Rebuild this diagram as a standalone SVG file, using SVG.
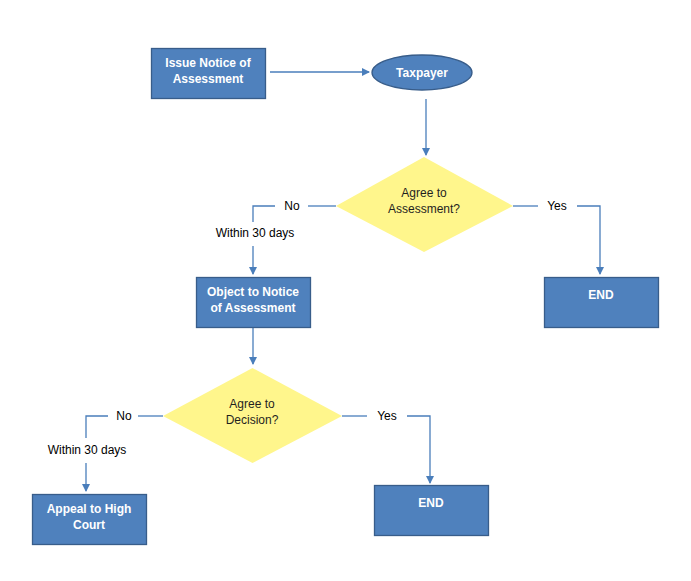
<svg xmlns="http://www.w3.org/2000/svg" width="691" height="581" viewBox="0 0 691 581">
<style>
.box{fill:#4F81BD;stroke:#385D8A;stroke-width:1.3}
.dia{fill:#FFF68C;stroke:none}
.nt{font-family:"Liberation Sans",Arial,sans-serif;font-size:12px;font-weight:bold;fill:#FFFFFF;text-anchor:middle}
.dt{font-family:"Liberation Sans",Arial,sans-serif;font-size:12px;fill:#1F1F1F;text-anchor:middle}
.lbl{font-family:"Liberation Sans",Arial,sans-serif;font-size:12px;fill:#000000;text-anchor:middle}
.c{fill:none;stroke:#4A7EBB;stroke-width:1.3}
</style>
<defs>
<marker id="ah" markerWidth="8" markerHeight="8" refX="7" refY="4" orient="auto" markerUnits="userSpaceOnUse">
<path d="M0,0 L8,4 L0,8 Z" fill="#4A7EBB"/>
</marker>
</defs>
<rect width="691" height="581" fill="#FFFFFF"/>
<g id="connectors">
<line class="c" x1="270" y1="72" x2="369" y2="72" marker-end="url(#ah)"/>
<line class="c" x1="426" y1="99" x2="426" y2="155" marker-end="url(#ah)"/>
<polyline class="c" points="336,206 308,206"/>
<polyline class="c" points="275,206 253,206 253,222"/>
<line class="c" x1="253" y1="246" x2="253" y2="274" marker-end="url(#ah)"/>
<polyline class="c" points="513,206 538,206"/>
<polyline class="c" points="577,206 600,206 600,274" marker-end="url(#ah)"/>
<line class="c" x1="253" y1="328" x2="253" y2="364" marker-end="url(#ah)"/>
<polyline class="c" points="163,416 138,416"/>
<polyline class="c" points="108,416 86,416 86,438"/>
<line class="c" x1="86" y1="463" x2="86" y2="491" marker-end="url(#ah)"/>
<polyline class="c" points="342,416 367,416"/>
<polyline class="c" points="407,416 430,416 430,483" marker-end="url(#ah)"/>
<text class="lbl" x="292" y="210">No</text>
<text class="lbl" x="255" y="237">Within 30 days</text>
<text class="lbl" x="557" y="210">Yes</text>
<text class="lbl" x="124" y="420">No</text>
<text class="lbl" x="87" y="454">Within 30 days</text>
<text class="lbl" x="387" y="420">Yes</text>
</g>
<g id="issue">
<rect class="box" x="151.5" y="48.5" width="114" height="50"/>
<text class="nt" x="208" y="67">Issue Notice of</text>
<text class="nt" x="208" y="83">Assessment</text>
</g>
<g id="taxpayer">
<ellipse class="box" cx="422" cy="72.5" rx="50" ry="17.5"/>
<text class="nt" x="422" y="77">Taxpayer</text>
</g>
<g id="agree1">
<polygon class="dia" points="424,157 513,206 424,252 336,206"/>
<text class="dt" x="424" y="197">Agree to</text>
<text class="dt" x="424" y="213">Assessment?</text>
</g>
<g id="object">
<rect class="box" x="196.5" y="277.5" width="114" height="50"/>
<text class="nt" x="253" y="296">Object to Notice</text>
<text class="nt" x="253" y="312">of Assessment</text>
</g>
<g id="end1">
<rect class="box" x="544.5" y="277.5" width="114" height="50"/>
<text class="nt" x="601" y="299">END</text>
</g>
<g id="agree2">
<polygon class="dia" points="252.5,368 342,416 252.5,463 163,416"/>
<text class="dt" x="252" y="408">Agree to</text>
<text class="dt" x="252" y="424">Decision?</text>
</g>
<g id="appeal">
<rect class="box" x="32.5" y="494.5" width="114" height="50"/>
<text class="nt" x="89" y="513">Appeal to High</text>
<text class="nt" x="89" y="529">Court</text>
</g>
<g id="end2">
<rect class="box" x="374.5" y="485.5" width="114" height="50"/>
<text class="nt" x="431" y="507">END</text>
</g>
</svg>
